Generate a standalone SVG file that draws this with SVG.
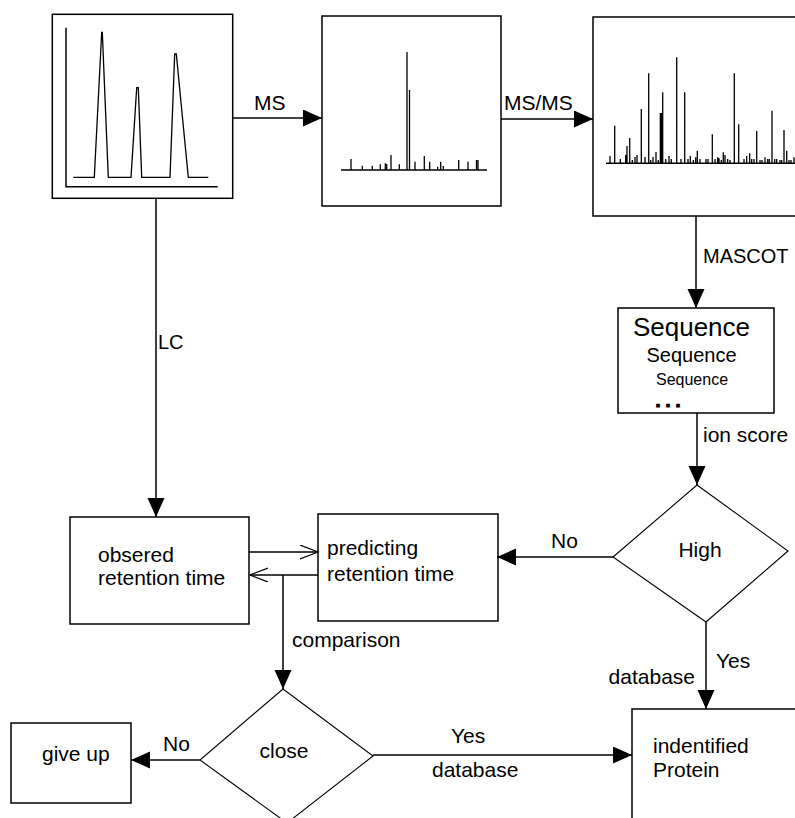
<svg xmlns="http://www.w3.org/2000/svg" width="795" height="818" viewBox="0 0 795 818">
<style>
  .box { fill: #fff; stroke: #000; stroke-width: 1.5; }
  .dia { fill: #fff; stroke: #000; stroke-width: 1.1; }
  .ln { fill: none; stroke: #000; stroke-width: 1.5; }
  .pk { fill: none; stroke: #000; stroke-width: 1.3; }
  text { font-family: "Liberation Sans", Arial, Helvetica, sans-serif; fill: #000; font-size: 21px; }
  .mid { text-anchor: middle; }
  .end { text-anchor: end; }
</style>
<defs>
  <marker id="arr" markerUnits="userSpaceOnUse" markerWidth="20" markerHeight="18" refX="19" refY="8.5" orient="auto">
    <path d="M0,0 L19,8.5 L0,17 Z" fill="#000"/>
  </marker>
  <marker id="open" markerUnits="userSpaceOnUse" markerWidth="20" markerHeight="16" refX="18" refY="7" orient="auto">
    <path d="M0,0 L18,7 L0,14" fill="none" stroke="#000" stroke-width="1.2"/>
  </marker>
</defs>
<rect width="795" height="818" fill="#fff"/>

<g id="lc-chromatogram">
  <rect class="box" x="52.3" y="14.3" width="180.4" height="184"/>
  <path class="ln" d="M66,27.7 V186.7 H217.7"/>
  <path class="pk" d="M73.3,177.3 H94.3 L101.7,32.3 H102.3 L108.3,177.3 H131 L136.7,87.7 H138.3 L141.7,177.3 H170 L174.7,54 H176.3 L188.3,177.3 H208.3"/>
</g>

<g id="ms-spectrum">
  <rect class="box" x="322" y="16" width="179" height="190"/>
  <path class="ln" d="M341,170 H487"/>
  <path class="pk" d="M407,170 V52 M409.5,170 V90 M351,170 V159 M362.3,170 V165.7 M372.3,170 V165.7 M380.3,170 V164.3 M385.3,170 V163.3 M386.7,170 V164 M391,170 V155 M399.3,170 V164.3 M415,170 V161.7 M424.3,170 V156 M429.7,170 V161.7 M437.7,170 V166.7 M440.7,170 V161.7 M443.3,170 V166 M458.7,170 V160 M468,170 V161.7 M476.5,170 V160 M478,170 V160"/>
</g>

<g id="msms-spectrum">
  <rect class="box" x="593" y="17" width="220" height="199"/>
  <path class="ln" d="M606,163.3 H795"/>
  <path class="pk" d="M610,163.3 V156 M614.7,163.3 V125.7 M620.3,163.3 V159 M625.7,163.3 V155 M627,163.3 V146 M629.7,163.3 V138 M632.3,163.3 V160 M635,163.3 V157 M637,163.3 V155 M641.3,163.3 V109 M645,163.3 V157 M648.7,163.3 V73.3 M650.7,163.3 V160 M653,163.3 V157 M656,163.3 V152 M658.3,163.3 V160 M662.7,163.3 V92.3 M665.7,163.3 V159 M669,163.3 V156 M671.3,163.3 V159 M676.7,163.3 V57.3 M681,163.3 V159 M684.7,163.3 V92.3 M688,163.3 V159 M690.3,163.3 V156 M693.3,163.3 V160 M695.7,163.3 V157.3 M697.3,163.3 V150.7 M700,163.3 V159 M706,163.3 V159 M708,163.3 V159 M712.3,163.3 V134.3 M715,163.3 V159 M717.7,163.3 V157.3 M719,163.3 V158.3 M721.3,163.3 V160 M723.3,163.3 V152.3 M725,163.3 V155 M727.7,163.3 V159 M730,163.3 V160 M734.3,163.3 V73.3 M738.7,163.3 V124.3 M744,163.3 V159 M746.7,163.3 V156 M749.7,163.3 V153.3 M751.7,163.3 V159 M754,163.3 V159 M756.7,163.3 V131 M760,163.3 V160 M762,163.3 V160 M765,163.3 V157.3 M767.7,163.3 V159 M769.3,163.3 V159 M772,163.3 V110.7 M774.7,163.3 V159 M776.7,163.3 V159 M780,163.3 V160 M781.7,163.3 V160 M784,163.3 V130 M786.7,163.3 V150.7 M789,163.3 V160 M791,163.3 V160 M794,163.3 V157.3"/>
  <path d="M661,163.3 V113" stroke="#000" stroke-width="2.6"/>
</g>

<g id="sequence">
  <rect class="box" x="618" y="308" width="156" height="105"/>
  <text class="mid" x="691.5" y="336" style="font-size:26px">Sequence</text>
  <text class="mid" x="691.5" y="361.5" style="font-size:20px">Sequence</text>
  <text class="mid" x="692" y="385" style="font-size:16px">Sequence</text>
  <text x="655.5" y="407" style="font-size:18px;font-weight:bold;letter-spacing:5px;stroke:#000;stroke-width:1.2px">...</text>
</g>

<g id="high">
  <polygon class="dia" points="697,485 788,551 706,622 613,557"/>
  <text class="mid" x="700" y="557">High</text>
</g>

<g id="observed">
  <rect class="box" x="70" y="517" width="179" height="107"/>
  <text x="98" y="562">obsered</text>
  <text x="98" y="585">retention time</text>
</g>

<g id="predicting">
  <rect class="box" x="318" y="514" width="180" height="107"/>
  <text x="327" y="555">predicting</text>
  <text x="327" y="581">retention time</text>
</g>

<g id="close">
  <polygon class="dia" points="283,689 373,756 287,823 200,760"/>
  <text class="mid" x="284" y="758">close</text>
</g>

<g id="give-up">
  <rect class="box" x="11" y="723" width="120" height="80"/>
  <text x="42" y="761">give up</text>
</g>

<g id="protein">
  <rect class="box" x="632" y="709" width="200" height="140"/>
  <text x="653" y="753">indentified</text>
  <text x="653" y="777">Protein</text>
</g>

<g id="connectors">
  <path class="ln" d="M233,118 H322" marker-end="url(#arr)"/>
  <path class="ln" d="M501,119 H593" marker-end="url(#arr)"/>
  <path class="ln" d="M696,216 V308" marker-end="url(#arr)"/>
  <path class="ln" d="M697,413 V485" marker-end="url(#arr)"/>
  <path class="ln" d="M613,557 H497" marker-end="url(#arr)"/>
  <path class="ln" d="M706,622 V709" marker-end="url(#arr)"/>
  <path class="ln" d="M156,198 V517" marker-end="url(#arr)"/>
  <path class="ln" d="M249,552 H318" marker-end="url(#open)"/>
  <path class="ln" d="M318,575 H250" marker-end="url(#open)"/>
  <path class="ln" d="M283,575 V689" marker-end="url(#arr)"/>
  <path class="ln" d="M200,760 H131" marker-end="url(#arr)"/>
  <path class="ln" d="M373,755 H632" marker-end="url(#arr)"/>

  <text x="254" y="110">MS</text>
  <text x="504" y="110">MS/MS</text>
  <text x="703" y="263" style="font-size:20px">MASCOT</text>
  <text x="158" y="349" style="font-size:20px">LC</text>
  <text x="703" y="442">ion score</text>
  <text x="551" y="548">No</text>
  <text x="716" y="668">Yes</text>
  <text class="end" x="695" y="684">database</text>
  <text x="292" y="647">comparison</text>
  <text x="163" y="751">No</text>
  <text x="451" y="743">Yes</text>
  <text x="432" y="777">database</text>
</g>
</svg>
